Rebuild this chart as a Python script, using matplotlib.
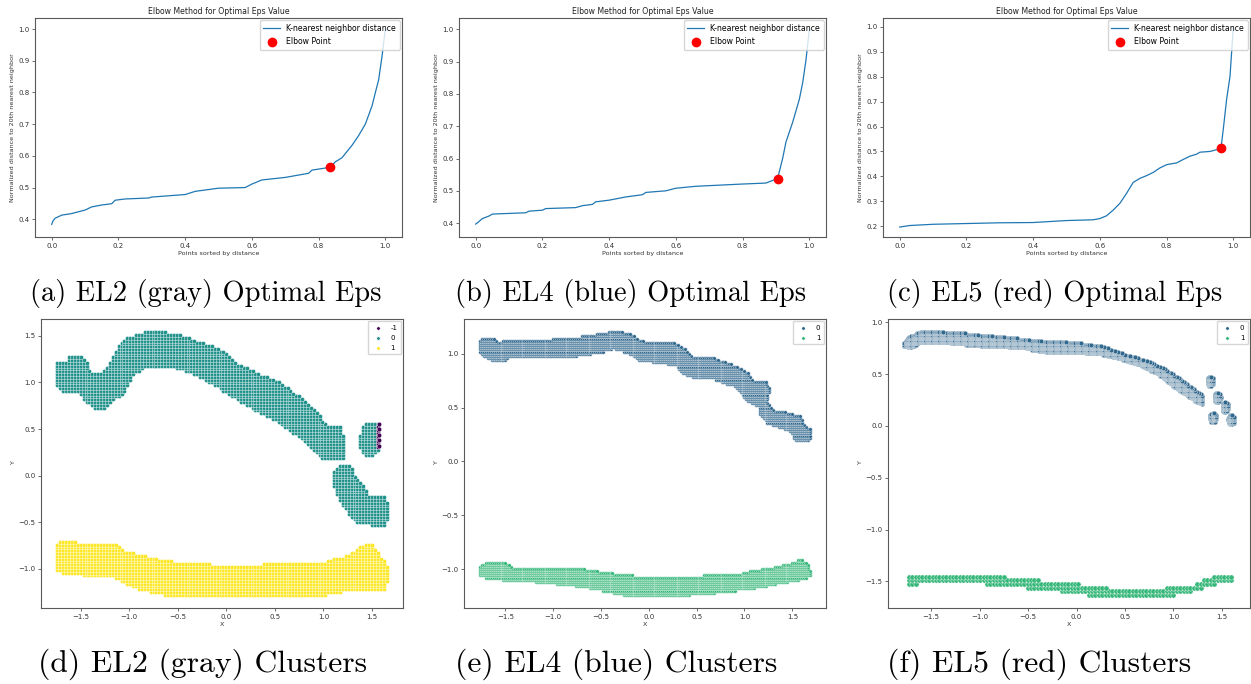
import numpy as np
import matplotlib.pyplot as plt
from matplotlib.path import Path

# k-distance curves (normalized distance to the 20th neighbour, points sorted)
el2_x = [0.0, 0.004, 0.01, 0.03, 0.06, 0.10, 0.12, 0.15, 0.18, 0.19, 0.22, 0.29, 0.30,
         0.40, 0.43, 0.50, 0.58, 0.60, 0.63, 0.70, 0.77, 0.78, 0.835, 0.85, 0.87, 0.88,
         0.90, 0.92, 0.94, 0.96, 0.97, 0.98, 0.99, 1.0]
el2_y = [0.384, 0.395, 0.403, 0.413, 0.418, 0.429, 0.439, 0.445, 0.449, 0.460, 0.464, 0.467,
         0.470, 0.478, 0.488, 0.498, 0.500, 0.511, 0.524, 0.532, 0.545, 0.555, 0.564, 0.581,
         0.594, 0.607, 0.633, 0.664, 0.700, 0.757, 0.799, 0.840, 0.913, 1.0]
el2_elbow = (0.835, 0.564)

el4_x = [0.0, 0.01, 0.02, 0.04, 0.05, 0.15, 0.16, 0.20, 0.21, 0.30, 0.32, 0.35, 0.36, 0.40,
         0.45, 0.50, 0.51, 0.57, 0.60, 0.66, 0.80, 0.87, 0.905, 0.91, 0.92, 0.93, 0.95, 0.97,
         0.98, 0.99, 1.0]
el4_y = [0.397, 0.405, 0.414, 0.422, 0.428, 0.432, 0.437, 0.440, 0.445, 0.448, 0.454, 0.458,
         0.466, 0.471, 0.481, 0.488, 0.495, 0.500, 0.508, 0.514, 0.521, 0.524, 0.538, 0.559,
         0.600, 0.651, 0.712, 0.783, 0.834, 0.905, 1.0]
el4_elbow = (0.905, 0.538)

el5_x = [0.0, 0.03, 0.10, 0.30, 0.40, 0.50, 0.58, 0.60, 0.62, 0.64, 0.66, 0.68, 0.70, 0.72,
         0.74, 0.76, 0.78, 0.80, 0.83, 0.85, 0.87, 0.89, 0.90, 0.93, 0.95, 0.963, 0.97, 0.98,
         0.99, 1.0]
el5_y = [0.197, 0.203, 0.208, 0.214, 0.215, 0.223, 0.226, 0.231, 0.242, 0.265, 0.292, 0.332,
         0.376, 0.392, 0.403, 0.416, 0.434, 0.447, 0.454, 0.468, 0.481, 0.489, 0.497, 0.500,
         0.507, 0.513, 0.590, 0.710, 0.800, 1.0]
el5_elbow = (0.963, 0.513)

# cluster regions (outline vertices in X/Y space)
el2_c0_main = [(-1.77, 1.14), (-1.74, 1.24), (-1.645, 1.24), (-1.645, 1.29), (-1.52, 1.29),
               (-1.44, 1.23), (-1.40, 1.12), (-1.30, 1.11), (-1.23, 1.16), (-1.18, 1.27),
               (-1.11, 1.40), (-1.01, 1.49), (-0.90, 1.53), (-0.80, 1.56), (-0.61, 1.54),
               (-0.45, 1.51), (-0.26, 1.43), (-0.12, 1.38), (0.01, 1.32), (0.12, 1.21),
               (0.29, 1.12), (0.50, 1.03), (0.64, 0.94), (0.81, 0.81), (0.91, 0.72),
               (0.98, 0.61), (1.05, 0.53), (1.17, 0.53), (1.21, 0.40), (1.20, 0.18),
               (0.98, 0.18), (0.88, 0.28), (0.71, 0.44), (0.50, 0.59), (0.29, 0.70),
               (0.08, 0.83), (-0.12, 0.96), (-0.26, 1.05), (-0.47, 1.14), (-0.68, 1.18),
               (-0.85, 1.16), (-0.95, 1.08), (-1.04, 0.92), (-1.13, 0.83), (-1.23, 0.74),
               (-1.30, 0.70), (-1.37, 0.74), (-1.47, 0.81), (-1.52, 0.90), (-1.645, 0.90),
               (-1.73, 0.92), (-1.77, 1.01)]
el2_c0_blob = [(1.37, 0.40), (1.40, 0.51), (1.46, 0.575), (1.56, 0.58), (1.59, 0.45),
               (1.57, 0.27), (1.50, 0.20), (1.42, 0.21), (1.38, 0.30)]
el2_c0_tail = [(1.17, 0.13), (1.28, 0.11), (1.31, 0.0), (1.40, -0.09), (1.47, -0.20),
               (1.62, -0.20), (1.67, -0.33), (1.67, -0.46), (1.62, -0.55), (1.48, -0.53),
               (1.45, -0.50), (1.36, -0.51), (1.26, -0.42), (1.155, -0.26), (1.10, -0.11),
               (1.11, 0.04)]
el2_c1 = [(-1.77, -0.77), (-1.71, -0.70), (-1.54, -0.70), (-1.52, -0.735), (-1.13, -0.735),
          (-1.09, -0.79), (-0.885, -0.845), (-0.75, -0.88), (-0.47, -0.94), (0.01, -0.956),
          (0.98, -0.94), (1.12, -0.88), (1.26, -0.845), (1.40, -0.754), (1.45, -0.72),
          (1.50, -0.735), (1.57, -0.845), (1.64, -0.92), (1.67, -1.03), (1.655, -1.14),
          (1.62, -1.23), (1.28, -1.23), (0.91, -1.305), (-0.54, -1.305), (-0.885, -1.23),
          (-1.16, -1.10), (-1.54, -1.066), (-1.75, -1.03)]
el2_noise_x = [1.56, 1.56, 1.56, 1.56, 1.56, 1.56, 1.56, 1.56, 1.575, 1.575, 1.575, 1.575, 1.575]
el2_noise_y = [0.31, 0.34, 0.37, 0.40, 0.43, 0.46, 0.49, 0.52, 0.32, 0.38, 0.44, 0.50, 0.55]

el4_c0 = [(-1.78, 1.106), (-1.74, 1.143), (-1.633, 1.153), (-1.58, 1.106), (-1.49, 1.13),
          (-0.864, 1.143), (-0.514, 1.184), (-0.34, 1.215), (-0.20, 1.184), (-0.024, 1.106),
          (0.27, 1.10), (0.395, 1.044), (0.465, 0.966), (0.57, 0.966), (0.64, 0.98),
          (0.745, 0.935), (0.92, 0.888), (1.04, 0.826), (1.094, 0.748), (1.217, 0.748),
          (1.27, 0.67), (1.25, 0.59), (1.234, 0.56), (1.30, 0.483), (1.48, 0.452),
          (1.584, 0.42), (1.62, 0.343), (1.69, 0.296), (1.69, 0.218), (1.654, 0.187),
          (1.53, 0.187), (1.48, 0.28), (1.374, 0.31), (1.234, 0.358), (1.164, 0.42),
          (1.147, 0.498), (1.024, 0.56), (0.885, 0.70), (0.675, 0.763), (0.50, 0.763),
          (0.36, 0.81), (0.29, 0.888), (-0.094, 0.935), (-0.234, 1.012), (-0.374, 1.044),
          (-0.514, 1.012), (-0.76, 0.98), (-1.458, 0.966), (-1.49, 0.935), (-1.65, 0.935),
          (-1.72, 0.98), (-1.78, 1.028)]
el4_c1 = [(-1.773, -0.966), (-1.70, -0.935), (-1.49, -0.935), (-1.42, -0.98), (-0.69, -0.997),
          (-0.48, -1.028), (-0.164, -1.06), (0.045, -1.075), (0.325, -1.075), (0.57, -1.06),
          (0.955, -1.044), (1.094, -1.012), (1.304, -0.98), (1.444, -0.95), (1.584, -0.913),
          (1.67, -0.95), (1.69, -1.06), (1.62, -1.09), (1.444, -1.12), (1.094, -1.184),
          (0.745, -1.215), (0.36, -1.246), (0.255, -1.26), (0.045, -1.246), (-0.234, -1.246),
          (-0.48, -1.20), (-0.83, -1.153), (-1.18, -1.12), (-1.458, -1.106), (-1.668, -1.09),
          (-1.773, -1.06)]

el5_c0 = [(-1.777, 0.804), (-1.743, 0.853), (-1.604, 0.908), (-1.258, 0.902), (-0.705, 0.853),
          (-0.36, 0.82), (-0.014, 0.804), (0.263, 0.771), (0.505, 0.69), (0.747, 0.624),
          (0.92, 0.542), (1.058, 0.46), (1.196, 0.363), (1.30, 0.297), (1.30, 0.20),
          (1.16, 0.28), (1.023, 0.363), (0.85, 0.493), (0.677, 0.575), (0.47, 0.64),
          (0.263, 0.69), (-0.014, 0.706), (-0.29, 0.706), (-0.567, 0.755), (-0.982, 0.771),
          (-1.397, 0.804), (-1.604, 0.804), (-1.708, 0.755), (-1.777, 0.765)]
el5_c0_blobs = [(1.38, 0.43), (1.455, 0.275), (1.535, 0.183), (1.41, 0.078), (1.594, 0.059)]
el5_c1 = [(-1.75, -1.42), (-1.5, -1.43), (-1.0, -1.43), (-0.5, -1.48), (0.0, -1.52),
          (0.3, -1.56), (0.8, -1.57), (1.2, -1.53), (1.4, -1.45), (1.6, -1.42), (1.62, -1.50),
          (1.4, -1.53), (1.1, -1.62), (0.8, -1.65), (0.3, -1.65), (0.0, -1.62), (-0.3, -1.58),
          (-1.0, -1.52), (-1.5, -1.52), (-1.75, -1.53)]

captions_top = ["(a) EL2 (gray) Optimal Eps", "(b) EL4 (blue) Optimal Eps",
                "(c) EL5 (red) Optimal Eps"]
captions_bottom = ["(d) EL2 (gray) Clusters", "(e) EL4 (blue) Clusters",
                   "(f) EL5 (red) Clusters"]

SPINE = '#5a5a5a'


def grid_inside(outline, step, x0=-1.8, y0=-1.7):
    path = Path(outline)
    gx, gy = np.meshgrid(np.arange(x0, 1.75, step), np.arange(y0, 1.6, step))
    pts = np.column_stack([gx.ravel(), gy.ravel()])
    return pts[path.contains_points(pts)]


def blob(center, w, h, step):
    cx, cy = center
    t = np.linspace(0, 2 * np.pi, 24, endpoint=False)
    outline = np.column_stack([cx + w * np.cos(t), cy + h * np.sin(t)])
    return grid_inside(outline, step)


def style_axes(ax):
    for sp in ax.spines.values():
        sp.set_color(SPINE)
        sp.set_linewidth(0.8)
    ax.tick_params(labelsize=5, length=2.5, width=0.5, colors='#333333', pad=1.5)


def elbow_panel(ax, xs, ys, elbow):
    ax.plot(xs, ys, color='#1f77b4', lw=0.9, label='K-nearest neighbor distance')
    ax.plot(*elbow, 'o', color='red', ms=6, label='Elbow Point')
    ax.set_title('Elbow Method for Optimal Eps Value', fontsize=5.6, pad=3, color='#222222')
    ax.set_xlabel('Points sorted by distance', fontsize=4.6, labelpad=2, color='#333333')
    ax.set_ylabel('Normalized distance to 20th nearest neighbor', fontsize=4.6, labelpad=2,
                  color='#333333')
    ax.set_yticks(np.arange(0.2, 1.01, 0.1))
    ax.set_ylim(min(ys) - 0.04, 1.035)
    ax.set_xticks([0, 0.2, 0.4, 0.6, 0.8, 1.0])
    ax.legend(loc='upper right', fontsize=5.6, borderaxespad=0.3, handlelength=2.2,
              labelspacing=0.6, borderpad=0.45, framealpha=0.8)
    style_axes(ax)


def cluster_panel(ax, groups, labels, colors, sizes, zorders):
    for pts, lab, col, s, z in zip(groups, labels, colors, sizes, zorders):
        ax.scatter(pts[:, 0], pts[:, 1], s=s, color=col, edgecolor='white', linewidths=0.3,
                   label=lab, zorder=z)
    ax.set_xlabel('X', fontsize=4.6, labelpad=2, color='#333333')
    ax.set_ylabel('Y', fontsize=4.6, labelpad=2, color='#333333')
    ax.set_xticks([-1.5, -1.0, -0.5, 0.0, 0.5, 1.0, 1.5])
    leg = ax.legend(loc='upper right', fontsize=5, markerscale=0.9, borderaxespad=0.3,
                    handletextpad=0.8, borderpad=0.5, labelspacing=0.6)
    for h in leg.legend_handles:
        h.set_sizes([6])
    style_axes(ax)


fig = plt.figure(figsize=(12.51, 6.84), dpi=100)
W, H = 1251, 684
top_left = [35, 459, 883]
bot_left = [41, 464, 888]
top_axes = [fig.add_axes([l / W, 447 / H, 367 / W, 219 / H]) for l in top_left]
bot_axes = [fig.add_axes([l / W, 76 / H, 362 / W, 289 / H]) for l in bot_left]

elbow_panel(top_axes[0], el2_x, el2_y, el2_elbow)
elbow_panel(top_axes[1], el4_x, el4_y, el4_elbow)
elbow_panel(top_axes[2], el5_x, el5_y, el5_elbow)

# EL2: noise drawn on top of the main cluster
c0 = np.vstack([grid_inside(el2_c0_main, 0.03), grid_inside(el2_c0_blob, 0.03),
                grid_inside(el2_c0_tail, 0.03)])
c1 = grid_inside(el2_c1, 0.03)
noise = np.column_stack([el2_noise_x, el2_noise_y])
cluster_panel(bot_axes[0], [noise, c0, c1], ['-1', '0', '1'],
              ['#440154', '#21918c', '#fde725'], [10, 9, 9], [4, 2, 2])
bot_axes[0].set_yticks([-1.0, -0.5, 0.0, 0.5, 1.0, 1.5])

# EL4
cluster_panel(bot_axes[1], [grid_inside(el4_c0, 0.02), grid_inside(el4_c1, 0.02)],
              ['0', '1'], ['#31688e', '#35b779'], [7, 7], [2, 2])

# EL5
c0 = np.vstack([grid_inside(el5_c0, 0.012)] + [blob(c, 0.035, 0.05, 0.012) for c in el5_c0_blobs])
cluster_panel(bot_axes[2], [c0, grid_inside(el5_c1, 0.035)], ['0', '1'],
              ['#31688e', '#35b779'], [12, 14], [2, 2])
bot_axes[2].set_yticks([-1.5, -1.0, -0.5, 0.0, 0.5, 1.0])

for l, txt in zip([30, 455, 887], captions_top):
    fig.text(l / W, 1 - 293 / H, txt, fontsize=20.5, family='cmr10', ha='left', va='center')
for l, txt in zip([38, 455, 887], captions_bottom):
    fig.text(l / W, 1 - 664 / H, txt, fontsize=22.8, family='cmr10', ha='left', va='center')

fig.savefig('out.png', dpi=100)
